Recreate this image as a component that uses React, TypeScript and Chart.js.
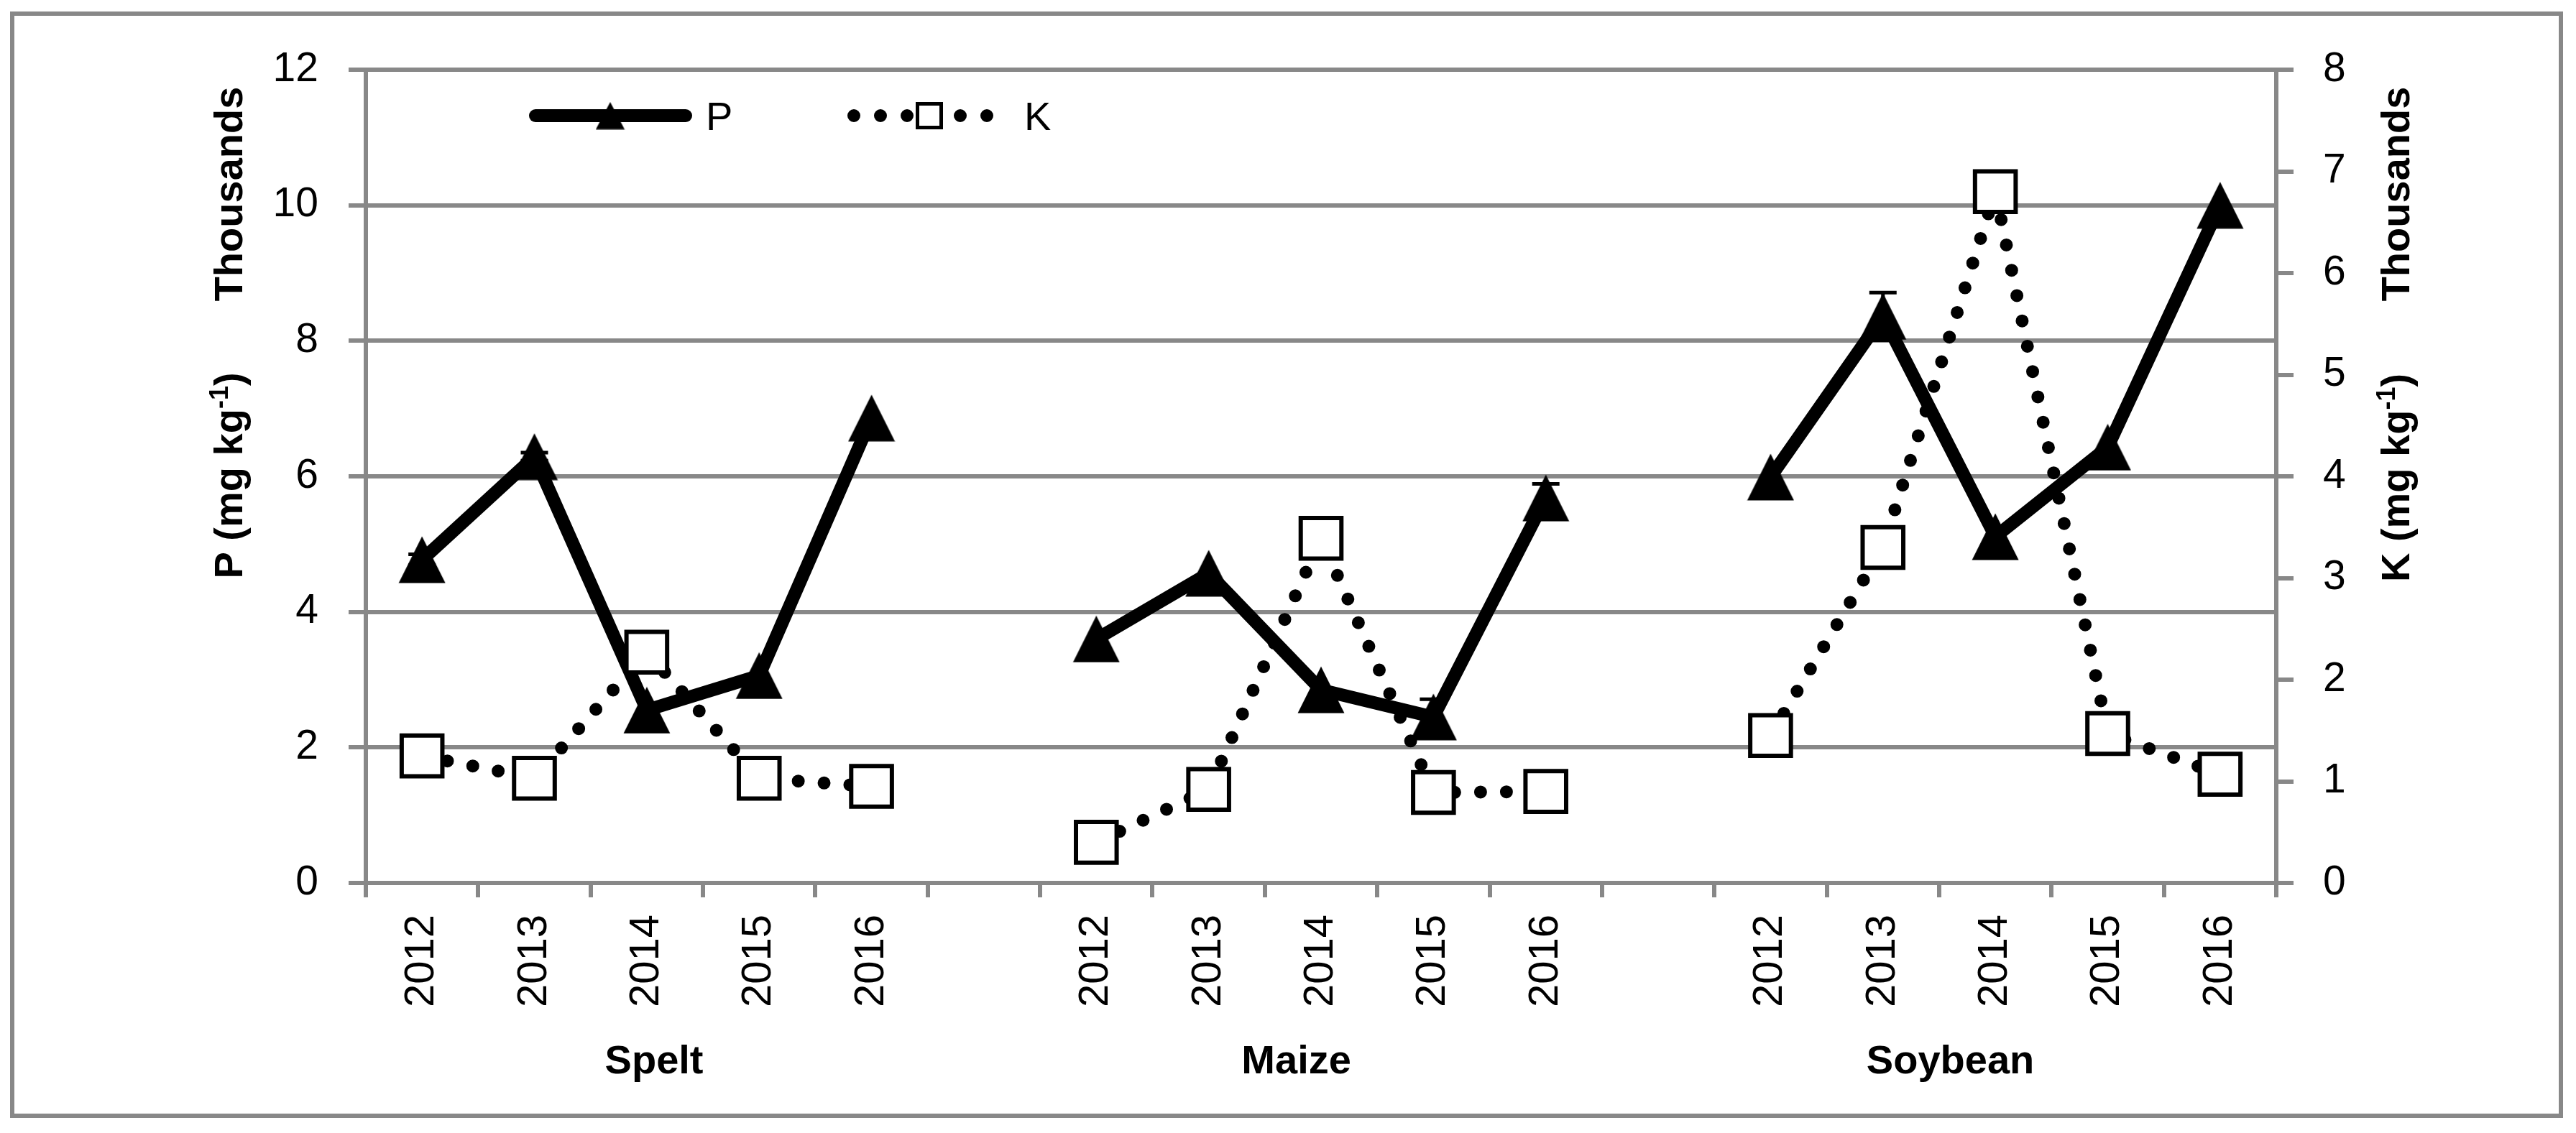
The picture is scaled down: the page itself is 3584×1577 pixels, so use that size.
import React, { useEffect, useRef } from 'react';
import { Chart, registerables } from 'chart.js';

Chart.register(...registerables);

// ---- data ----
const categories = [
  '2012', '2013', '2014', '2015', '2016', '',
  '2012', '2013', '2014', '2015', '2016', '',
  '2012', '2013', '2014', '2015', '2016',
];
const groupNames = ['Spelt', 'Maize', 'Soybean'];
// P in mg/kg (left axis, shown in thousands)
const pValues = [4770, 6290, 2550, 3060, 6860, null, 3600, 4570, 2850, 2450, 5680, null, 5990, 8360, 5110, 6430, 10000];
const pErrors = [80, 60, 0, 0, 0, null, 0, 0, 0, 260, 210, null, 0, 350, 0, 0, 0];
// K in mg/kg (right axis, shown in thousands)
const kValues = [1250, 1030, 2270, 1030, 950, null, 400, 920, 3390, 890, 900, null, 1450, 3300, 6800, 1470, 1070];
const pTicks = { min: 0, max: 12000, step: 2000 };
const kTicks = { min: 0, max: 8000, step: 1000 };

// ---- style ----
const GRAY = '#888888';
const FONT = "'Liberation Sans', Arial, sans-serif";
const W = 3584;
const H = 1577;

function makeTriangle(w: number, h: number): HTMLCanvasElement {
  const c = document.createElement('canvas');
  c.width = w;
  c.height = h;
  const g = c.getContext('2d')!;
  g.fillStyle = '#000';
  g.beginPath();
  g.moveTo(w / 2, 0.5);
  g.lineTo(w - 0.5, h - 0.5);
  g.lineTo(0.5, h - 0.5);
  g.closePath();
  g.fill();
  return c;
}

type Part = { text: string; font: string; dy: number };
function drawVertical(ctx: CanvasRenderingContext2D, xBase: number, yCenter: number, parts: Part[]) {
  ctx.save();
  let total = 0;
  const widths = parts.map((p) => {
    ctx.font = p.font;
    const w = ctx.measureText(p.text).width;
    total += w;
    return w;
  });
  ctx.translate(xBase, yCenter);
  ctx.rotate(-Math.PI / 2);
  ctx.textAlign = 'left';
  ctx.textBaseline = 'alphabetic';
  ctx.fillStyle = '#000';
  let x = -total / 2;
  parts.forEach((p, i) => {
    ctx.font = p.font;
    ctx.fillText(p.text, x, p.dy);
    x += widths[i];
  });
  ctx.restore();
}

export default function App() {
  const ref = useRef<HTMLCanvasElement | null>(null);

  useEffect(() => {
    const canvas = ref.current;
    if (!canvas) return;
    const tri = makeTriangle(66, 66);
    const triSmall = makeTriangle(41, 39);

    const framePlugin = {
      id: 'frame',
      beforeDraw(chart: any) {
        const ctx = chart.ctx as CanvasRenderingContext2D;
        ctx.save();
        ctx.fillStyle = '#fff';
        ctx.fillRect(0, 0, chart.width, chart.height);
        ctx.strokeStyle = GRAY;
        ctx.lineWidth = 6;
        ctx.strokeRect(17, 19, 3563 - 17, 1553 - 19);
        ctx.restore();
      },
    };

    const errorPlugin = {
      id: 'errbars',
      beforeDatasetsDraw(chart: any) {
        const ctx = chart.ctx as CanvasRenderingContext2D;
        const meta = chart.getDatasetMeta(0);
        const ys = chart.scales.y;
        ctx.save();
        ctx.strokeStyle = '#000';
        ctx.lineWidth = 5;
        pErrors.forEach((e, i) => {
          const v = pValues[i];
          if (e == null || v == null || e <= 0) return;
          const x = meta.data[i].x;
          const yt = ys.getPixelForValue(v + e);
          const yb = ys.getPixelForValue(v - e);
          ctx.beginPath();
          ctx.moveTo(x, yt);
          ctx.lineTo(x, yb);
          ctx.moveTo(x - 19, yt);
          ctx.lineTo(x + 19, yt);
          ctx.moveTo(x - 19, yb);
          ctx.lineTo(x + 19, yb);
          ctx.stroke();
        });
        ctx.restore();
      },
    };

    const textPlugin = {
      id: 'texts',
      afterDraw(chart: any) {
        const ctx = chart.ctx as CanvasRenderingContext2D;
        const xs = chart.scales.x;
        const bold = `bold 56px ${FONT}`;
        const sup = `bold 36px ${FONT}`;
        // axis titles
        drawVertical(ctx, 337, 270, [{ text: 'Thousands', font: bold, dy: 0 }]);
        drawVertical(ctx, 337, 662, [
          { text: 'P (mg kg', font: bold, dy: 0 },
          { text: '-1', font: sup, dy: -20 },
          { text: ')', font: bold, dy: 0 },
        ]);
        drawVertical(ctx, 3352, 270, [{ text: 'Thousands', font: bold, dy: 0 }]);
        drawVertical(ctx, 3352, 665, [
          { text: 'K (mg kg', font: bold, dy: 0 },
          { text: '-1', font: sup, dy: -20 },
          { text: ')', font: bold, dy: 0 },
        ]);
        // group labels
        const groupPos = [2.065, 7.78, 13.6];
        ctx.save();
        ctx.font = bold;
        ctx.fillStyle = '#000';
        ctx.textAlign = 'center';
        ctx.textBaseline = 'alphabetic';
        groupNames.forEach((g, i) => {
          ctx.fillText(g, xs.getPixelForValue(groupPos[i]), 1494);
        });
        ctx.restore();

        // legend
        ctx.save();
        ctx.strokeStyle = '#000';
        ctx.lineCap = 'round';
        ctx.lineWidth = 18;
        ctx.beginPath();
        ctx.moveTo(745, 161);
        ctx.lineTo(954, 161);
        ctx.stroke();
        ctx.drawImage(triSmall, 849 - 20.5, 161 - 19.5);
        ctx.setLineDash([0, 37]);
        ctx.beginPath();
        ctx.moveTo(1188, 161);
        ctx.lineTo(1380, 161);
        ctx.stroke();
        ctx.setLineDash([]);
        ctx.lineWidth = 5;
        ctx.fillStyle = '#fff';
        ctx.fillRect(1293 - 16.5, 161 - 16.5, 33, 33);
        ctx.strokeRect(1293 - 16.5, 161 - 16.5, 33, 33);
        ctx.fillStyle = '#000';
        ctx.font = `56px ${FONT}`;
        ctx.textAlign = 'left';
        ctx.textBaseline = 'alphabetic';
        ctx.fillText('P', 982, 181);
        ctx.fillText('K', 1425, 181);
        ctx.restore();
      },
    };

    const tickFont = { family: FONT, size: 57 };

    const chart = new Chart(canvas, {
      type: 'line',
      data: {
        labels: categories,
        datasets: [
          {
            label: 'P',
            data: pValues,
            yAxisID: 'y',
            borderColor: '#000',
            backgroundColor: '#000',
            borderWidth: 18,
            borderJoinStyle: 'round',
            tension: 0,
            spanGaps: false,
            pointStyle: tri as any,
            pointRadius: 33,
            pointHoverRadius: 33,
            order: 1,
          },
          {
            label: 'K',
            data: kValues,
            yAxisID: 'y1',
            borderColor: '#000',
            borderWidth: 18,
            borderDash: [0, 36],
            borderCapStyle: 'round',
            tension: 0,
            spanGaps: false,
            pointStyle: 'rect',
            pointRadius: 40,
            pointHoverRadius: 40,
            pointBorderWidth: 6,
            pointBackgroundColor: '#fff',
            pointBorderColor: '#000',
            order: 0,
          },
        ],
      } as any,
      options: {
        responsive: false,
        animation: false,
        devicePixelRatio: 1,
        events: [],
        layout: { padding: { top: 97, left: 0, right: 0, bottom: 0 } },
        plugins: { legend: { display: false }, tooltip: { enabled: false } },
        scales: {
          x: {
            type: 'category',
            offset: true,
            grid: {
              offset: true,
              drawOnChartArea: false,
              drawTicks: true,
              tickLength: 20,
              color: GRAY,
              lineWidth: 6,
            },
            border: { display: true, color: GRAY, width: 6 },
            ticks: {
              autoSkip: false,
              minRotation: 90,
              maxRotation: 90,
              padding: 24,
              color: '#000',
              font: { family: FONT, size: 58 },
            },
            afterFit: (s: any) => {
              s.height = H - 1229;
            },
          },
          y: {
            position: 'left',
            min: pTicks.min,
            max: pTicks.max,
            ticks: {
              stepSize: pTicks.step,
              callback: (v: any) => String(Number(v) / 1000),
              padding: 42,
              color: '#000',
              font: tickFont,
            },
            grid: { color: GRAY, lineWidth: 6, tickLength: 24, drawTicks: true },
            border: { display: true, color: GRAY, width: 6 },
            afterFit: (s: any) => {
              s.width = 509;
            },
          },
          y1: {
            position: 'right',
            min: kTicks.min,
            max: kTicks.max,
            ticks: {
              stepSize: kTicks.step,
              callback: (v: any) => String(Number(v) / 1000),
              padding: 41,
              color: '#000',
              font: tickFont,
            },
            grid: { drawOnChartArea: false, color: GRAY, lineWidth: 6, tickLength: 24, drawTicks: true },
            border: { display: true, color: GRAY, width: 6 },
            afterFit: (s: any) => {
              s.width = W - 3167;
            },
          },
        },
      } as any,
      plugins: [framePlugin, errorPlugin, textPlugin],
    });

    return () => {
      chart.destroy();
    };
  }, []);

  return (
    <div style={{ position: 'fixed', left: 0, top: 0, width: W, height: H, background: '#fff' }}>
      <canvas ref={ref} width={W} height={H} style={{ width: W, height: H, display: 'block' }} />
    </div>
  );
}
